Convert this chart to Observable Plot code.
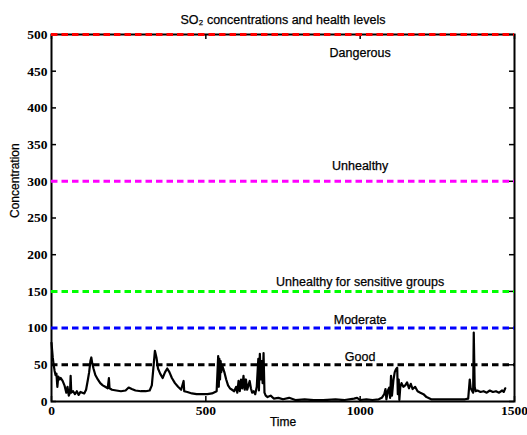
<!DOCTYPE html>
<html>
<head>
<meta charset="utf-8">
<script src="https://cdn.jsdelivr.net/npm/d3@7"></script>
<script src="https://cdn.jsdelivr.net/npm/@observablehq/plot@0.6"></script>
<style>
  html, body { margin: 0; padding: 0; background: #fff; }
</style>
</head>
<body>
<div id="chart"></div>
<script>
// SO2 time series
const time = [0,2,4,7,10,13,16,19,22,26,30,36,42,48,52,56,60,62,64,70,76,82,88,94,100,106,112,118,122,126,129,132,136,142,150,158,166,174,182,186,188,196,210,225,240,250,260,272,290,305,318,325,330,335,340,345,352,360,368,375,382,390,400,410,420,428,430,440,455,470,490,505,520,535,540,542,544,546,548,550,553,556,560,566,572,578,585,592,598,602,606,610,614,618,622,626,630,634,638,642,646,650,655,660,665,670,672,675,678,681,684,687,690,694,700,710,720,735,750,770,790,820,850,880,920,950,980,990,1000,1020,1040,1060,1070,1078,1082,1085,1090,1094,1097,1100,1103,1108,1112,1116,1120,1122,1125,1127,1130,1134,1140,1146,1152,1158,1164,1170,1178,1186,1195,1205,1215,1230,1250,1280,1310,1340,1350,1355,1358,1362,1366,1368,1371,1374,1380,1390,1400,1410,1420,1430,1440,1450,1460,1465,1470];
const so2 = [80,70,60,50,42,36,38,20,34,30,32,28,22,12,20,8,12,35,12,14,10,14,9,13,12,11,16,30,40,55,60,52,45,36,30,25,22,20,18,32,18,16,15,14,15,19,17,15,14,14,15,22,45,69,60,45,38,32,40,45,40,32,25,20,16,28,14,13,11,10,10,10,11,14,62,20,58,30,55,40,50,45,40,30,22,18,16,14,20,12,28,14,30,18,35,16,30,16,22,28,18,12,14,10,20,58,15,65,30,55,25,66,12,8,6,8,4,5,3,5,2,3,2,2,3,2,4,5,2,3,2,3,5,10,17,3,15,19,5,35,8,30,40,44,46,10,30,2,20,25,20,22,26,18,24,17,20,14,12,10,6,3,3,3,3,3,4,30,18,15,12,94,20,14,15,13,14,12,15,13,14,12,15,13,18];

// Health levels
const levelValues = [50, 100, 150, 300, 500];
const levelNames = ["Good", "Moderate", "Unhealthy for sensitive groups", "Unhealthy", "Dangerous"];
const levelColors = ["#000000", "#0000ff", "#00ff00", "#ff00ff", "#ff0000"];

// Ticks
const xTicks = [0, 500, 1000, 1500];
const yTicks = [0, 50, 100, 150, 200, 250, 300, 350, 400, 450, 500];

const series = time.map((t, i) => ({t, v: so2[i]}));
const levels = levelValues.map((v, i) => ({v, name: levelNames[i], color: levelColors[i]}));

const W = 527, H = 435;
const mL = 51, mR = 13, mT = 34, mB = 34;
const innerW = W - mL - mR, innerH = H - mT - mB;
const tickLen = 5;
const sans = "Liberation Sans, Arial, sans-serif";
const labelDy = [-8, -8, -9, -15, 18];

const chart = Plot.plot({
  width: W,
  height: H,
  marginLeft: mL,
  marginRight: mR,
  marginTop: mT,
  marginBottom: mB,
  style: {fontFamily: "Liberation Serif, Times New Roman, serif", fontWeight: "bold", fontSize: "13.5px", background: "#fff", overflow: "visible"},
  x: {domain: [0, 1500], axis: null},
  y: {domain: [0, 500], axis: null},
  marks: [
    Plot.axisX(xTicks, {tickSize: 0, tickPadding: 4, fill: "#000", label: null, tickFormat: d => String(d)}),
    Plot.axisY(yTicks, {tickSize: 0, tickPadding: 4, fill: "#000", label: null, tickFormat: d => String(d)}),
    // inward ticks on all four sides
    Plot.tickX(xTicks, {x: d => d, insetTop: innerH - tickLen, stroke: "#000", strokeWidth: 1.5}),
    Plot.tickX(xTicks, {x: d => d, insetBottom: innerH - tickLen, stroke: "#000", strokeWidth: 1.5}),
    Plot.tickY(yTicks, {y: d => d, insetRight: innerW - tickLen, stroke: "#000", strokeWidth: 1.5}),
    Plot.tickY(yTicks, {y: d => d, insetLeft: innerW - tickLen, stroke: "#000", strokeWidth: 1.5}),
    Plot.frame({stroke: "#000", strokeWidth: 2}),
    Plot.ruleY(levels, {y: "v", stroke: "color", strokeWidth: 3, strokeDasharray: "6.5,4"}),
    ...levels.map((lv, i) => Plot.text([lv], {
      x: 1000, y: "v", text: "name", dy: labelDy[i],
      fontFamily: sans, fontWeight: "normal", fontSize: 12.5, fill: "#000", stroke: "#000", strokeWidth: 0.25
    })),
    Plot.line(series, {x: "t", y: "v", stroke: "#000", strokeWidth: 2.2, strokeLinejoin: "round"}),
    Plot.text(["SO\u2082 concentrations and health levels"], {
      frameAnchor: "top", dy: -19, fontFamily: sans, fontWeight: "normal", fontSize: 12.5, fill: "#000", stroke: "#000", strokeWidth: 0.25
    }),
    Plot.text(["Time"], {
      frameAnchor: "bottom", dy: 24, fontFamily: sans, fontWeight: "normal", fontSize: 12, fill: "#000", stroke: "#000", strokeWidth: 0.25
    }),
    Plot.text(["Concentration"], {
      frameAnchor: "left", dx: -36, rotate: -90, fontFamily: sans, fontWeight: "normal", fontSize: 12, fill: "#000", stroke: "#000", strokeWidth: 0.25
    })
  ]
});

document.getElementById("chart").appendChild(chart);
</script>
</body>
</html>
